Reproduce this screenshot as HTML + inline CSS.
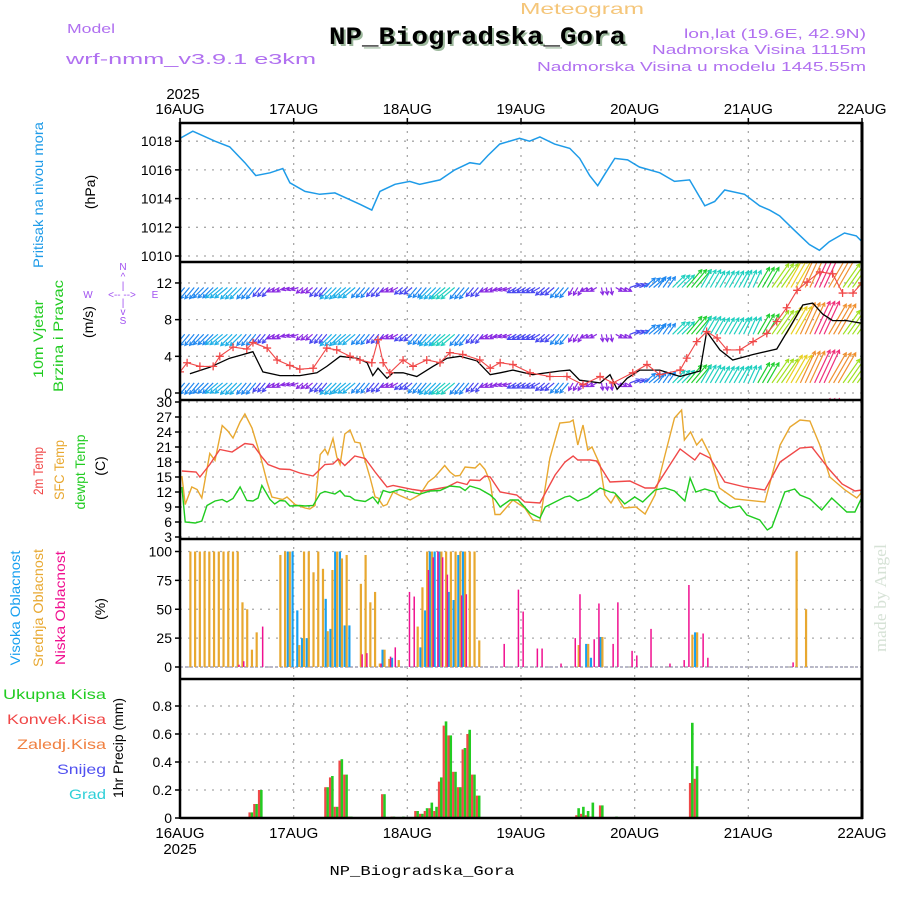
<!DOCTYPE html>
<html><head><meta charset="utf-8">
<style>
body{margin:0;background:#fff}
svg{display:block;font-family:"Liberation Sans",sans-serif}
</style></head>
<body>
<svg id="chart" width="900" height="900" viewBox="0 0 900 900" xmlns="http://www.w3.org/2000/svg">
<defs>
<clipPath id="cp1"><rect x="180" y="123" width="682" height="139"/></clipPath>
<clipPath id="cp2"><rect x="180" y="263" width="682" height="137"/></clipPath>
<clipPath id="cp3"><rect x="180" y="401" width="682" height="138"/></clipPath>
<clipPath id="cp4"><rect x="180" y="540" width="682" height="139"/></clipPath>
<clipPath id="cp5"><rect x="180" y="680" width="682" height="138"/></clipPath>
</defs>
<!-- header -->
<text x="582" y="14" text-anchor="middle" font-size="16" fill="#f5c67a" textLength="124" lengthAdjust="spacingAndGlyphs">Meteogram</text>
<text x="67" y="33" font-size="13" fill="#b070f0" textLength="48" lengthAdjust="spacingAndGlyphs">Model</text>
<text x="66" y="64" font-size="15" fill="#b070f0" textLength="250" lengthAdjust="spacingAndGlyphs">wrf-nmm_v3.9.1 e3km</text>
<text x="331" y="46" font-family="Liberation Mono, monospace" font-weight="bold" font-size="25" fill="#9cb89c" textLength="297" lengthAdjust="spacingAndGlyphs">NP_Biogradska_Gora</text>
<text x="329" y="44" font-family="Liberation Mono, monospace" font-weight="bold" font-size="25" fill="#000" textLength="297" lengthAdjust="spacingAndGlyphs">NP_Biogradska_Gora</text>
<text x="866" y="38" text-anchor="end" font-size="12.5" fill="#b070f0" textLength="182" lengthAdjust="spacingAndGlyphs">lon,lat (19.6E, 42.9N)</text>
<text x="866" y="54" text-anchor="end" font-size="12.5" fill="#b070f0" textLength="214" lengthAdjust="spacingAndGlyphs">Nadmorska Visina 1115m</text>
<text x="866" y="71" text-anchor="end" font-size="12.5" fill="#b070f0" textLength="329" lengthAdjust="spacingAndGlyphs">Nadmorska Visina u modelu 1445.55m</text>
<text x="183" y="99" text-anchor="middle" font-size="15" fill="#000">2025</text>
<text x="180" y="854" text-anchor="middle" font-size="15" fill="#000">2025</text>
<text x="422" y="875" text-anchor="middle" font-family="Liberation Mono, monospace" font-size="14" fill="#000" textLength="185" lengthAdjust="spacingAndGlyphs">NP_Biogradska_Gora</text>
<text transform="translate(886,652) rotate(-90)" font-family="Liberation Serif, serif" font-size="17" fill="#d6e2d6" textLength="108" lengthAdjust="spacingAndGlyphs">made by Angel</text>

<!-- left labels -->
<text transform="translate(43,195) rotate(-90)" text-anchor="middle" font-size="14" fill="#1e9be8" textLength="146" lengthAdjust="spacingAndGlyphs">Pritisak na nivou mora</text>
<text transform="translate(95,192) rotate(-90)" text-anchor="middle" font-size="14" fill="#000">(hPa)</text>
<text transform="translate(43,339) rotate(-90)" text-anchor="middle" font-size="14" fill="#22cc22" textLength="78" lengthAdjust="spacingAndGlyphs">10m Vjetar</text>
<text transform="translate(63,336) rotate(-90)" text-anchor="middle" font-size="14" fill="#22cc22" textLength="112" lengthAdjust="spacingAndGlyphs">Brzina i Pravac</text>
<text transform="translate(93,322) rotate(-90)" text-anchor="middle" font-size="14" fill="#000">(m/s)</text>
<g fill="#a050f0" font-size="10" text-anchor="middle">
<text x="123" y="270">N</text><text x="123" y="280">^</text><text x="123" y="289">|</text>
<text x="122" y="298">&lt;-- --&gt;</text><text x="155" y="298">E</text><text x="88" y="298">W</text>
<text x="123" y="306">|</text><text x="123" y="315">v</text><text x="123" y="324">S</text>
</g>
<text transform="translate(43,471) rotate(-90)" text-anchor="middle" font-size="14" fill="#f04848" textLength="48" lengthAdjust="spacingAndGlyphs">2m Temp</text>
<text transform="translate(64,470) rotate(-90)" text-anchor="middle" font-size="14" fill="#e8a830" textLength="60" lengthAdjust="spacingAndGlyphs">SFC Temp</text>
<text transform="translate(85,472) rotate(-90)" text-anchor="middle" font-size="14" fill="#22cc22" textLength="75" lengthAdjust="spacingAndGlyphs">dewpt Temp</text>
<text transform="translate(105,466) rotate(-90)" text-anchor="middle" font-size="14" fill="#000">(C)</text>
<text transform="translate(20,608) rotate(-90)" text-anchor="middle" font-size="14" fill="#18a0f0" textLength="115" lengthAdjust="spacingAndGlyphs">Visoka Oblacnost</text>
<text transform="translate(43,608) rotate(-90)" text-anchor="middle" font-size="14" fill="#e8a830" textLength="118" lengthAdjust="spacingAndGlyphs">Srednja Oblacnost</text>
<text transform="translate(65,608) rotate(-90)" text-anchor="middle" font-size="14" fill="#f01090" textLength="114" lengthAdjust="spacingAndGlyphs">Niska Oblacnost</text>
<text transform="translate(105,609) rotate(-90)" text-anchor="middle" font-size="14" fill="#000">(%)</text>
<g font-size="14" text-anchor="end">
<text x="106" y="699" fill="#22cc22" textLength="103" lengthAdjust="spacingAndGlyphs">Ukupna Kisa</text>
<text x="106" y="724" fill="#f04848" textLength="99" lengthAdjust="spacingAndGlyphs">Konvek.Kisa</text>
<text x="106" y="749" fill="#f08040" textLength="89" lengthAdjust="spacingAndGlyphs">Zaledj.Kisa</text>
<text x="106" y="774" fill="#5050f0" textLength="49" lengthAdjust="spacingAndGlyphs">Snijeg</text>
<text x="106" y="799" fill="#30d0d8" textLength="37" lengthAdjust="spacingAndGlyphs">Grad</text>
</g>
<text transform="translate(123,748) rotate(-90)" text-anchor="middle" font-size="14" fill="#000" textLength="100" lengthAdjust="spacingAndGlyphs">1hr Precip (mm)</text>
<g id="marks"></g>
</svg>
<script>
// ===== data =====
const dayLabels = ["16AUG","17AUG","18AUG","19AUG","20AUG","21AUG","22AUG"];
const pressTicks = [1010,1012,1014,1016,1018];
const windTicks = [0,4,8,12];
const tempTicks = [3,6,9,12,15,18,21,24,27,30];
const cloudTicks = [0,25,50,75,100];
const precipTicks = [0,0.2,0.4,0.6,0.8];
const precipTickLabels = ["0","0.2","0.4","0.6","0.8"];

const pressHours = [0,2.7,7.4,10.5,13.7,16,19,21.7,23.2,26.4,29.5,32.7,38,40.5,42.2,45.4,48.5,50.6,54.9,58,61.2,63.3,65,67.5,71.7,73.8,76,79.1,82.3,84.4,86.5,88.2,89.7,91.8,94.5,97,101.3,104.4,107.6,110.8,112.9,115,119.2,122.4,124.5,126.6,129.7,132.9,135,137.1,140.3,142.8,144];
const pressVals = [1018.2,1018.7,1018.0,1017.6,1016.5,1015.6,1015.8,1016.1,1015.1,1014.5,1014.3,1014.4,1013.6,1013.2,1014.5,1015.0,1015.2,1015.0,1015.3,1016.0,1016.5,1016.4,1017.0,1017.8,1018.2,1018.0,1018.3,1017.8,1017.5,1016.8,1015.6,1014.9,1015.7,1016.8,1016.7,1016.2,1015.8,1015.2,1015.3,1013.5,1013.8,1014.6,1014.3,1013.5,1013.2,1012.8,1011.8,1010.8,1010.4,1011.0,1011.6,1011.4,1011.0];

const windHours = [0,3,6,9,12,15,18,21,24,27,30,33,36,39,42,45,48,51,54,57,60,63,66,69,72,75,78,81,84,87,90,93,96,99,102,105,108,111,114,117,120,123,126,129,132,135,138,141,144];
const windSpeed = [4.5,5,5,5.5,5.5,5,4,3,2.5,3,4,5.5,5.5,4.5,4,3,3.5,4.5,5.5,6,5,4,3,3,3.5,3.5,4,4.5,3,2.5,2.5,2.5,3.5,5,4.5,6,8,7,6.5,6.5,6.5,8,10,11,12,12.5,12,10,10];
const windDir = [40,40,45,50,45,40,40,60,70,50,40,45,50,40,40,60,50,40,45,50,40,40,60,70,60,60,50,40,30,60,350,300,250,230,215,225,220,210,210,210,205,210,215,210,205,205,210,215,215];
const windRows = [11.5,6.4,1.1,-4.2];

const gustHours = [0,1.5,4.2,7,8.4,11.2,14.1,15.4,18.4,20.5,23.2,25.3,28.1,31,33.1,35.9,38,40.5,41.8,42.9,44.3,47.1,49.2,52.1,54.9,57,59.7,63.3,65.5,67.6,70.3,73.9,78.1,81.7,85.1,88.7,91.4,95.6,98.6,101.3,105.6,107,109.1,111.2,113.4,115.5,118.2,121,123.9,126,128.1,130.3,132.4,135.1,137.8,139.9,142.1,144];
const gustVals = [2.3,3.3,2.9,2.9,4,5,4.8,5.5,4.9,3.6,3,2.6,2.7,4.9,4.7,4,3.6,3.3,5.8,3.3,2.2,3.6,2.9,3.6,3.3,4.4,4.2,3.6,2.7,3.3,3.1,2.2,1.8,1.8,0.9,1.8,1.1,2.2,3.1,2,2.5,3.8,5.6,6.7,6,4.7,4.7,5.6,6.5,7.8,9.3,11.2,12.1,13.2,13,10.9,10.9,12];
const meanWindHours = [2.1,6.3,10.5,12.7,15.4,17.5,21.1,25.3,28.9,31,33.8,37.4,39.5,40.7,41.8,43.7,45,47.1,50,53.4,56.4,59.1,62.7,65.5,67.6,70.3,74.5,80.2,82.3,84.4,88.7,90.8,92.3,94.4,97.1,101.3,105.6,109.8,111.2,114,116.7,121,126,128.8,131.5,133.6,135.7,137.8,140.8,144];
const meanWindVals = [2.1,2.8,3.8,4.1,4.5,2.3,1.9,1.9,2.2,2.9,4,3.8,3.3,1.9,2.7,1.6,2.2,2.2,1.8,2.9,3.8,4,3.5,2,2.2,2.5,2,2.4,2.5,1.4,1.1,2,0.4,1.6,2.5,2.5,1.8,2.4,6.7,4.7,3.6,4.2,4.8,7.2,9.6,9.8,8.6,7.9,7.9,7.6];

const t2Hours = [0.4,3.4,4.2,6.3,8.4,11,13.7,15.4,17.3,18.6,21.1,23.2,25.3,28.1,30.6,32.3,33.4,34.8,36.9,39.1,41.2,43.7,45,49.2,51.3,53.4,56.4,58.5,60.6,61.2,63.3,64.4,65.5,67.6,71.1,72.8,76,79.2,81.3,83,84,86.6,88,90.8,95,98.2,100.3,105.6,108.7,109.8,111.9,115,119.3,123.5,126.7,130.9,133.4,137.2,139.8,142.5,144];
const t2Vals = [16.2,16,15,17.5,20.5,20,21.7,21.5,19,17.5,16.6,16.5,15.8,15.2,17.5,17.6,18.6,17.3,19.2,18.7,16,13,13.3,12.5,12.2,12.5,13,14,13.5,14.4,14.3,15.2,15,12,11.4,10,9.8,15.4,18,19.2,18.4,18.4,18.2,14,14.2,12.8,12.8,20.6,18.4,19.8,18.8,14,13,12.4,18,20.8,21,16.4,13.6,12.2,12.4];
const sfcHours = [0.4,1.1,2.5,3.6,4.6,6.3,7.4,8.9,10.1,11.2,12.7,13.7,15.2,16.9,18.4,19.4,21.7,22.6,24.3,26.4,27.4,28.5,29.6,30.6,31.2,32.3,33.1,33.8,34.8,35.9,36.9,38,40.1,41.2,41.8,42.9,43.7,45,46.4,48.6,50.7,52.4,53.8,55.9,57,58.1,59.1,60.2,62.3,63.3,64.4,65.5,66.5,67.6,70.3,72.8,74.5,76,78.1,80.2,82.3,83,84,85.1,86.1,87,88.7,89.7,91,92,93.7,96.3,98.2,100.3,102.4,104.4,105.9,106.5,107.8,109.1,110.2,111.9,113.9,117.2,123.5,126.7,128.8,130.9,133,135.1,137.2,140.4,142.9,144];
const sfcVals = [15.2,9.5,13,12.5,10.8,19.7,18.3,25.3,24.2,22.8,26,27.6,24.8,19.5,14,11,10.5,11,9.5,8.8,8.6,9.3,19.5,20.6,19.5,22.7,19,17.5,23.6,24.4,22,21.8,15,11,10.8,9.2,9.5,12,11.3,10.4,11.5,14,15,17.3,16,15.2,15.3,17,16.8,17.7,16.5,14,7.5,7.5,10.4,8.8,6.4,6.2,18.8,25.8,26,26.4,21.4,25.4,20.4,21,17.4,11.4,9.8,11.4,8.8,9,7.6,11.4,19.4,26.8,28.4,22.4,24,21.4,22.6,19.4,12.8,10.6,10,21.4,25,26.4,26.2,21.4,15,12.4,10.8,12];
const dewHours = [0.4,1.1,3.2,4.6,5.7,7.4,8.9,9.9,11.2,12.7,14.1,15.4,16.5,17.3,19,20,21.1,22.2,23.2,25.3,26.4,28.1,29.6,30.6,32.7,33.8,34.8,35.9,36.9,39.1,40.7,41.8,42.9,44.3,46.4,49.6,50.7,52.8,54.9,57,59.1,60.2,61.2,63.3,65.5,66.5,67.6,69.7,71.4,73.9,76,77.1,79.2,81.3,82.3,84,86.1,88.7,90.8,91.8,93.9,96,97.7,100.3,102.4,104.4,106.6,107.7,108.9,110.8,112.9,113.9,116.1,118.2,119.7,122.4,124,125,127.7,129.8,130.9,133,135.5,137.6,140.8,142.5,144];
const dewVals = [13,6,5.8,6.2,9.3,10.2,10.5,10,10.7,13,10.3,10.2,10.8,13.3,10.5,9.6,10.3,10.2,9.2,9.3,9.2,9.3,11.7,12.1,11.6,12.3,11.2,11.1,10.4,10.1,11,9.7,12.3,11.9,12.5,11.8,11.6,12.2,12.3,13.2,13,12.3,13.2,12.6,11.4,10.5,9,10.4,10.4,7.8,6.8,9,10,11,11.2,10.2,11,12.8,12,11.8,9.6,11,10,12.4,12.8,12.2,10.2,14.8,12,12.6,12,10.2,8.8,9.2,7.4,6.4,4.4,5,12,12.6,11.4,10.6,8.4,10.8,8,8,11];

const midCloudHours = [2,3,4,5,6,7,8,9,10,11,12,13,14,15,16,21,22,23,25,26,27,28,29,30,31,32,33,34,35,38,39,40,41,42,43,44,46,50,51,52,53,55,56,57,58,59,60,61,62,63,84,86,89,108,109,130,132];
const midCloudVals = [100,100,100,100,100,100,100,100,100,100,100,56,50,15,30,97,100,100,19,100,100,82,100,85,31,84,100,94,97,72,97,56,65,3,15,7,6,35,69,100,100,100,100,100,100,100,100,100,100,23,19,20,26,28,30,100,50];
const highCloudHours = [23,24,25,26,27,31,32,33,34,35,36,43,45,51,52,53,54,55,57,58,59,60,86,87,89,109];
const highCloudVals = [100,100,49,25,25,59,33,100,100,36,36,15,8,17,49,100,100,100,65,58,97,100,20,8,26,30];
const lowCloudHours = [12,13,17,38,39,42,44,45,48,49,52,53,54,55,56,59,60,68,71,72,75,76,80,83,84,87,88,91,92,95,96,99,103,106,107,110,111,129];
const lowCloudVals = [2,5,35,11,12,3,9,17,65,61,84,95,100,95,80,62,63,20,67,48,16,16,3,25,63,24,55,20,56,14,10,33,3,6,71,29,8,4];

const precipHours = [15,16,17,31,32,33,34,35,36,43,45,47,50,51,52,53,54,55,56,57,58,59,60,61,62,63,84,85,86,87,89,92,108,109];
const precipTotal = [0.04,0.1,0.2,0.22,0.3,0.08,0.42,0.31,0.01,0.17,0.01,0.01,0.05,0.03,0.07,0.11,0.08,0.29,0.69,0.59,0.33,0.22,0.5,0.63,0.31,0.16,0.07,0.08,0.05,0.11,0.09,0.01,0.68,0.37];
const precipConv = [0.04,0.1,0.2,0.22,0.29,0.08,0.41,0.31,0.01,0.17,0.01,0,0.05,0.03,0.05,0.07,0.05,0.26,0.66,0.59,0.33,0.22,0.49,0.6,0.31,0.16,0.02,0.03,0.02,0.01,0.09,0,0.25,0.28];

// ===== scales =====
const X0 = 180, X1 = 862, HOURS = 144;
const X = h => X0 + h * (X1 - X0) / HOURS;
const PY = p => 256 - (p - 1010) * 14.35;
const WY = v => 393 - v * 9.17;
const TY = t => 402 + (30 - t) * 5;
const CY = c => 667 - c * 1.155;
const RY = r => 818 - r * 140;

const NS = "http://www.w3.org/2000/svg";
const root = document.getElementById("marks");
function mk(tag, attrs, parent) {
  const e = document.createElementNS(NS, tag);
  for (const k in attrs) e.setAttribute(k, attrs[k]);
  (parent || root).appendChild(e);
  return e;
}
function pathOf(hs, vs, fy) {
  return hs.map((h, i) => (i ? "L" : "M") + X(h).toFixed(1) + "," + fy(vs[i]).toFixed(1)).join("");
}

const panels = [
  {top:123, bot:262, ticks:pressTicks, labels:pressTicks.map(String), fy:PY, name:"pressure"},
  {top:262, bot:400, ticks:windTicks, labels:windTicks.map(String), fy:WY, name:"wind"},
  {top:400, bot:539, ticks:tempTicks, labels:tempTicks.map(String), fy:TY, name:"temperature"},
  {top:539, bot:679, ticks:cloudTicks, labels:cloudTicks.map(String), fy:CY, name:"cloud"},
  {top:679, bot:818, ticks:precipTicks, labels:precipTickLabels, fy:RY, name:"precip"}
];

// grid
panels.forEach(p => {
  const g = mk("g", {});
  
  
  p.ticks.forEach((t, i) => {
    const y = p.fy(t);
    const gl = mk("line", {x1:X0, x2:X1, y1:y, y2:y, stroke:"#a8a8a8", "stroke-width":1.3, "stroke-dasharray":"2,6"}, g);
    
    
    const tk = mk("line", {x1:X0 - 5, x2:X0, y1:y, y2:y, stroke:"#000", "stroke-width":1.5}, g);
    
    
    const lb = mk("text", {x:172, y:y + 5, "text-anchor":"end", "font-size":14, fill:"#000"}, g);
    lb.textContent = p.labels[i];
    
    
  });
  for (let d = 1; d < dayLabels.length - 1; d++) {
    const x = X(d * 24);
    const vl = mk("line", {x1:x, x2:x, y1:p.top, y2:p.bot, stroke:"#a8a8a8", "stroke-width":1.3, "stroke-dasharray":"2,6"}, g);
    
    
  }
});

// day labels
dayLabels.forEach((d, i) => {
  const x = X(i * 24);
  const t1 = mk("text", {x:x, y:114, "text-anchor":"middle", "font-size":15, fill:"#000"});
  t1.textContent = d;
  
  
  const t2 = mk("text", {x:x, y:838, "text-anchor":"middle", "font-size":15, fill:"#000"});
  t2.textContent = d;
  
  
  const tk = mk("line", {x1:x, x2:x, y1:118, y2:123, stroke:"#000", "stroke-width":1.5});
  
  
});

// pressure
const pl = mk("path", {d:pathOf(pressHours, pressVals, PY), fill:"none", stroke:"#1e9be8", "stroke-width":1.5, "clip-path":"url(#cp1)"});



// wind arrows (each 3-hourly value drawn as a bundle of hourly glyphs)
const colorStops = [[0,'#8a2be2'],[3.2,'#4848f0'],[4.2,'#2088f0'],[5.2,'#20b0e8'],[6,'#20d0c0'],[7.5,'#20d030'],[9,'#a0e020'],[10.5,'#e8d020'],[11.5,'#f09030'],[12.2,'#f0307a']];
function speedColor(s) { let c = colorStops[0][1]; colorStops.forEach(st => { if (s >= st[0]) c = st[1]; }); return c; }
const wg = mk("g", {"clip-path":"url(#cp2)"});


const bundleOffsets = [-1, 0, 1];
windRows.forEach(rv => {
  windHours.forEach((h, i) => {
    const s = windSpeed[i], d = windDir[i] * Math.PI / 180;
    const L = 2.9 * s;
    const ux = -Math.sin(d), uy = Math.cos(d);
    const col = speedColor(s);
    let dpath = "";
    bundleOffsets.forEach(o => {
      const x0 = X(h + o), y0 = WY(rv);
      const x1 = x0 + ux * L, y1 = y0 + uy * L;
      const hx = -ux * 4, hy = -uy * 4;
      const c = Math.cos(0.5), sn = Math.sin(0.5);
      dpath += "M" + x0.toFixed(1) + "," + y0.toFixed(1) + "L" + x1.toFixed(1) + "," + y1.toFixed(1) +
        "M" + (x1 + hx * c - hy * sn).toFixed(1) + "," + (y1 + hx * sn + hy * c).toFixed(1) + "L" + x1.toFixed(1) + "," + y1.toFixed(1) +
        "L" + (x1 + hx * c + hy * sn).toFixed(1) + "," + (y1 - hx * sn + hy * c).toFixed(1);
    });
    const a = mk("path", {d:dpath, fill:"none", stroke:col, "stroke-width":1.2}, wg);
    
    
  });
});
const ml = mk("path", {d:pathOf(meanWindHours, meanWindVals, WY), fill:"none", stroke:"#000", "stroke-width":1.3, "clip-path":"url(#cp2)"});


const gl2 = mk("path", {d:pathOf(gustHours, gustVals, WY), fill:"none", stroke:"#f04848", "stroke-width":1.1, "clip-path":"url(#cp2)"});


gustHours.forEach((h, i) => {
  const x = X(h), y = WY(gustVals[i]);
  const m = mk("path", {d:"M" + (x - 4) + "," + y + "h8M" + x + "," + (y - 4) + "v8", stroke:"#f04848", "stroke-width":1.3, "clip-path":"url(#cp2)"});
  
  
});

// temperatures
[[sfcHours, sfcVals, "#e8a830", "sfc-temp-line"], [t2Hours, t2Vals, "#f04848", "temp-2m-line"], [dewHours, dewVals, "#20cc20", "dewpoint-line"]].forEach(s => {
  const l = mk("path", {d:pathOf(s[0], s[1], TY), fill:"none", stroke:s[2], "stroke-width":1.4, "clip-path":"url(#cp3)"});
  
  
});

// clouds
const base = mk("line", {x1:X0, x2:X1, y1:CY(0), y2:CY(0), stroke:"#b8b8c8", "stroke-width":2, "stroke-dasharray":"3,2"});


[[highCloudHours, highCloudVals, "#18a0f0", -2.2, 2.2, "high-cloud-bar"], [midCloudHours, midCloudVals, "#e8a830", -0.2, 2.2, "mid-cloud-bar"], [lowCloudHours, lowCloudVals, "#f01090", 1.4, 1.5, "low-cloud-bar"]].forEach(s => {
  s[0].forEach((h, i) => {
    const y = CY(s[1][i]);
    const r = mk("rect", {x:X(h) + s[3], y:y, width:s[4], height:CY(0) - y, fill:s[2], "clip-path":"url(#cp4)"});
    
    
  });
});

// precipitation
precipHours.forEach((h, i) => {
  const yt = RY(precipTotal[i]);
  const g = mk("rect", {x:X(h) - 0.5, y:yt, width:2.6, height:RY(0) - yt, fill:"#22cc22"});
  
  
  const yc = RY(precipConv[i]);
  const r = mk("rect", {x:X(h) - 2.6, y:yc, width:2.2, height:RY(0) - yc, fill:"#f04848"});
  
  
});

// frames
panels.forEach(p => {
  const f = mk("line", {x1:X0, x2:X1 + 1, y1:p.top, y2:p.top, stroke:"#000", "stroke-width":2.5});
  
  
});
const fb = mk("line", {x1:X0, x2:X1 + 1, y1:818, y2:818, stroke:"#000", "stroke-width":2.5});


const fl = mk("line", {x1:X0, x2:X0, y1:122, y2:819, stroke:"#000", "stroke-width":2.5});


const fr = mk("line", {x1:X1, x2:X1, y1:122, y2:819, stroke:"#000", "stroke-width":3});


</script>
</body></html>
